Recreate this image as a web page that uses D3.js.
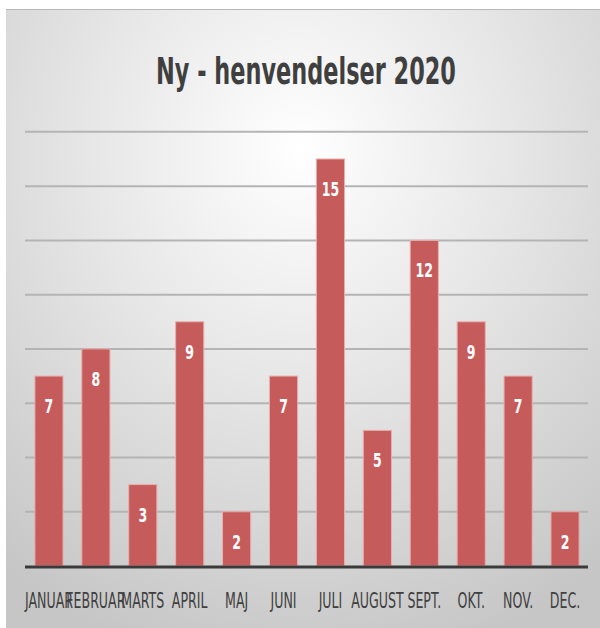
<!DOCTYPE html>
<html>
<head>
<meta charset="utf-8">
<script src="https://cdn.jsdelivr.net/npm/d3@7"></script>
<style>
  html, body { margin: 0; padding: 0; background: #fff; }
  svg { display: block; }
</style>
</head>
<body>
<div id="chart"></div>
<script>
// data
var months = ["JANUAR", "FEBRUAR", "MARTS", "APRIL", "MAJ", "JUNI", "JULI", "AUGUST", "SEPT.", "OKT.", "NOV.", "DEC."];
var counts = [7, 8, 3, 9, 2, 7, 15, 5, 12, 9, 7, 2];
var gridTicks = [2, 4, 6, 8, 10, 12, 14, 16];
var title = "Ny - henvendelser 2020";

var width = 600,
    height = 628;

// no narrow font installed, so squeeze DejaVu horizontally
var font = "'DejaVu Sans', sans-serif";

var svg = d3.select("#chart").append("svg")
    .attr("width", width)
    .attr("height", height);

var defs = svg.append("defs");
var bg = defs.append("radialGradient")
    .attr("id", "bg")
    .attr("gradientUnits", "userSpaceOnUse")
    .attr("cx", 300).attr("cy", 150).attr("r", 480)
    .attr("gradientTransform", "translate(300,150) scale(1,1.1) translate(-300,-150)");
bg.append("stop").attr("offset", "0%").attr("stop-color", "#ffffff");
bg.append("stop").attr("offset", "45%").attr("stop-color", "#e6e6e6");
bg.append("stop").attr("offset", "100%").attr("stop-color", "#c6c6c6");

// panel
svg.append("rect")
    .attr("x", 6).attr("y", 9)
    .attr("width", width - 6).attr("height", height - 9)
    .attr("fill", "url(#bg)");
svg.append("line")
    .attr("x1", 6).attr("x2", width)
    .attr("y1", 9.5).attr("y2", 9.5)
    .attr("stroke", "#b8b8b8");

var x = d3.scaleBand()
    .domain(months)
    .range([25.5, 588.5])
    .paddingInner(0.4)
    .paddingOuter(0.2);

var y = d3.scaleLinear()
    .domain([0, 15])
    .range([566, 159]);

// gridlines
svg.append("g")
    .selectAll("line")
    .data(gridTicks)
    .enter().append("line")
    .attr("x1", 25).attr("x2", 588)
    .attr("y1", function(d) { return y(d); })
    .attr("y2", function(d) { return y(d); })
    .attr("stroke", "#b4b4b4")
    .attr("stroke-width", 2);

// bars
svg.append("g")
    .selectAll("rect")
    .data(counts)
    .enter().append("rect")
    .attr("x", function(d, i) { return x(months[i]); })
    .attr("y", function(d) { return y(d); })
    .attr("width", x.bandwidth())
    .attr("height", function(d) { return y(0) - y(d); })
    .attr("fill", "#c65b5b")
    .attr("stroke", "#e7b0ae")
    .attr("stroke-width", 1);

// value labels
svg.append("g")
    .selectAll("text")
    .data(counts)
    .enter().append("text")
    .attr("transform", function(d, i) {
        return "translate(" + (x(months[i]) + x.bandwidth() / 2) + "," + (y(d) + 37) + ") scale(0.66,1)";
    })
    .attr("text-anchor", "middle")
    .attr("font-family", font)
    .attr("font-weight", "bold")
    .attr("font-size", 19)
    .attr("fill", "#ffffff")
    .text(function(d) { return d; });

// baseline
svg.append("line")
    .attr("x1", 25).attr("x2", 588)
    .attr("y1", y(0) + 1).attr("y2", y(0) + 1)
    .attr("stroke", "#3a3a3a")
    .attr("stroke-width", 3);

// month labels
svg.append("g")
    .selectAll("text")
    .data(months)
    .enter().append("text")
    .attr("transform", function(d) {
        return "translate(" + (x(d) + x.bandwidth() / 2) + ",608) scale(0.6,1)";
    })
    .attr("text-anchor", "middle")
    .attr("font-family", font)
    .attr("font-size", 21)
    .attr("fill", "#404040")
    .text(function(d) { return d; });

// title
svg.append("text")
    .attr("transform", "translate(306,84) scale(0.59,1)")
    .attr("text-anchor", "middle")
    .attr("font-family", font)
    .attr("font-weight", "bold")
    .attr("font-size", 38)
    .attr("fill", "#3f3f3f")
    .text(title);
</script>
</body>
</html>
